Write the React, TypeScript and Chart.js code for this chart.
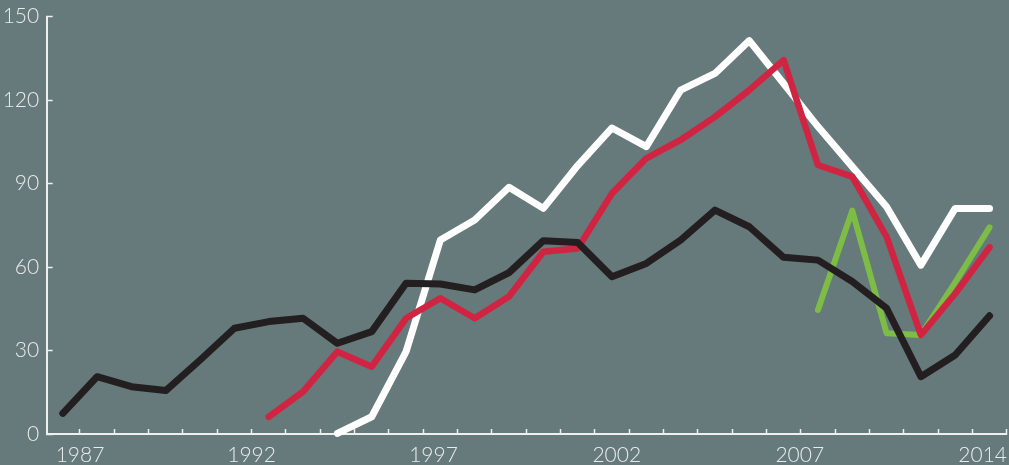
import React, { useEffect, useRef } from 'react';
import { Chart, registerables } from 'chart.js';

Chart.register(...registerables);

const years = [1987, 1988, 1989, 1990, 1991, 1992, 1993, 1994, 1995, 1996, 1997, 1998, 1999, 2000,
  2001, 2002, 2003, 2004, 2005, 2006, 2007, 2008, 2009, 2010, 2011, 2012, 2013, 2014];

const blackSeries = [7.4, 20.6, 17.0, 15.6, 26.6, 38.0, 40.4, 41.6, 32.6, 36.8, 54.2, 53.9, 51.8, 58.0,
  69.5, 68.8, 56.5, 61.3, 69.7, 80.5, 74.5, 63.5, 62.5, 54.8, 45.2, 20.6, 28.4, 42.5];

const redSeries = [null, null, null, null, null, null, 6.2, 15.2, 29.6, 24.2, 41.6, 48.8, 41.6, 49.4,
  65.5, 66.7, 86.5, 99.1, 105.7, 114.0, 123.6, 134.4, 96.7, 92.5, 70.9, 35.6, 50.5, 67.1];

const whiteSeries = [null, null, null, null, null, null, null, null, 0.2, 6.2, 29.6, 69.7, 76.9, 88.7,
  81.1, 96.5, 110.0, 103.3, 123.6, 129.6, 141.4, 126.0, 110.5, 96.1, 81.7, 60.7, 81.1, 81.1];

const greenSeries = [null, null, null, null, null, null, null, null, null, null, null, null, null, null,
  null, null, null, null, null, null, null, null, 44.6, 80.3, 36.2, 35.6, 54.5, 74.3];

const yTickValues = [0, 30, 60, 90, 120, 150];
const xLabelTexts = ['1987', '1992', '1997', '2002', '2007', '2014'];
// where the original places its year labels along the axis (in axis units)
const xLabelAt = [1987.5, 1992.5, 1997.8, 2003.14, 2008.47, 2013.8];
// small yearly tick marks sit half way between data years
const xMinorTicks = years.map((y) => y + 0.5);

const BG = '#66797b';
const AXIS = '#eef0f0';
const TEXT = '#e9ecec';
const FONT = { family: 'Lato, "Open Sans", sans-serif', size: 21, weight: '300' as any };

function toPoints(vals: (number | null)[]) {
  const pts: { x: number; y: number }[] = [];
  vals.forEach((v, i) => {
    if (v !== null) pts.push({ x: years[i], y: v });
  });
  return pts;
}

export default function App() {
  const ref = useRef<HTMLCanvasElement | null>(null);

  useEffect(() => {
    if (!ref.current) return;
    const labelMap = new Map<number, string>();
    xMinorTicks.forEach((v) => labelMap.set(v, ''));
    xLabelAt.forEach((v, i) => labelMap.set(v, xLabelTexts[i]));
    const minorSet = new Set<number>(xMinorTicks);

    const line = (data: any, color: string, width: number, order: number) => ({
      data,
      borderColor: color,
      backgroundColor: color,
      borderWidth: width,
      pointRadius: 0,
      pointHoverRadius: 0,
      tension: 0,
      fill: false,
      borderCapStyle: 'round',
      borderJoinStyle: 'round',
      clip: false,
      order,
    });

    const chart = new Chart(ref.current, {
      type: 'line',
      data: {
        datasets: [
          line(toPoints(blackSeries), '#231f20', 7, 0) as any,
          line(toPoints(redSeries), '#d12442', 6.5, 1) as any,
          line(toPoints(whiteSeries), '#ffffff', 7, 2) as any,
          line(toPoints(greenSeries), '#7dbd45', 6, 3) as any,
        ],
      },
      options: {
        animation: false,
        responsive: false,
        devicePixelRatio: 1,
        layout: { padding: { top: 16.7, right: 2.3, left: 0, bottom: 0 } },
        plugins: { legend: { display: false }, tooltip: { enabled: false } },
        events: [],
        scales: {
          x: {
            type: 'linear',
            min: 1986.53,
            max: 2014.5,
            afterBuildTicks: (scale: any) => {
              scale.ticks = Array.from(labelMap.keys())
                .sort((a, b) => a - b)
                .map((v) => ({ value: v }));
            },
            afterFit: (scale: any) => {
              scale.height = 31;
              scale.paddingLeft = 0;
              scale.paddingRight = 0;
            },
            ticks: {
              autoSkip: false,
              maxRotation: 0,
              minRotation: 0,
              padding: 14,
              color: TEXT,
              font: FONT,
              callback: (value: any) => labelMap.get(value) ?? '',
            },
            grid: {
              drawOnChartArea: false,
              drawTicks: true,
              tickLength: -5,
              tickWidth: 1.5,
              tickColor: (ctx: any) => (ctx.tick && minorSet.has(ctx.tick.value) ? AXIS : 'rgba(0,0,0,0)'),
            },
            border: { display: true, color: AXIS, width: 2 },
          },
          y: {
            type: 'linear',
            min: 0,
            max: 150,
            afterBuildTicks: (scale: any) => {
              scale.ticks = yTickValues.map((v) => ({ value: v }));
            },
            afterFit: (scale: any) => {
              scale.width = 46.7;
              scale.paddingTop = 0;
              scale.paddingBottom = 0;
            },
            ticks: {
              padding: 13.5,
              color: TEXT,
              font: FONT,
              callback: (value: any) => String(value),
            },
            grid: {
              drawOnChartArea: false,
              drawTicks: true,
              tickLength: -6,
              tickWidth: 1.5,
              tickColor: AXIS,
            },
            border: { display: true, color: AXIS, width: 2 },
          },
        },
      } as any,
    });
    return () => chart.destroy();
  }, []);

  return (
    <div style={{ position: 'fixed', left: 0, top: 0, width: 1009, height: 465, background: BG }}>
      <canvas ref={ref} width={1009} height={465} style={{ display: 'block', width: 1009, height: 465 }} />
    </div>
  );
}
